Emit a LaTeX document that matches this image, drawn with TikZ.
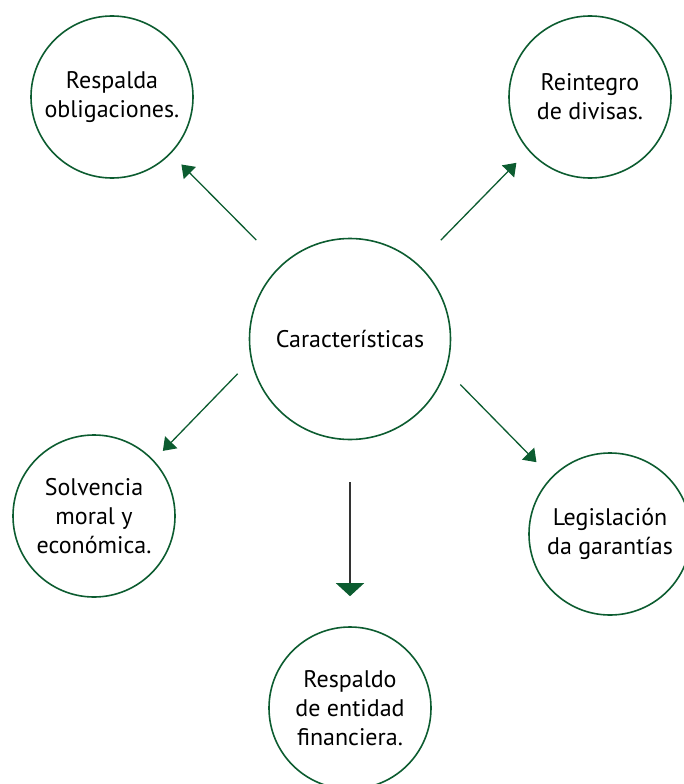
\documentclass[tikz,border=0pt]{standalone}
\usepackage{fontspec}
\setmainfont{PT Sans}
\usepackage{xcolor}
\usetikzlibrary{arrows.meta,positioning}

\definecolor{darkgreen}{RGB}{12,92,48}

\begin{document}
\begin{tikzpicture}[
    x=1pt, y=-1pt,
    item/.style={circle, draw=darkgreen, line width=1.6pt, minimum size=162pt, inner sep=0pt, align=center, font=\fontsize{24}{29}\selectfont},
    hub/.style={item, minimum size=201pt},
    arrow/.style={draw=darkgreen, line width=1.3pt, -{Triangle[length=12pt, width=17pt, fill=darkgreen]}},
    downarrow/.style={draw=black!80, line width=1.3pt, -{Triangle[length=13pt, width=28pt, color=darkgreen, fill=darkgreen]}}
]
\clip (0,0) rectangle (684,784);

% centro
\node[hub] (caract) at (350,339) {\raisebox{-6pt}{Características}};

% alrededor
\node[item] (oblig) at (112,97) {Respalda\\obligaciones.};
\node[item] (divisas) at (590,97) {Reintegro\\de divisas.};
\node[item] (solvencia) at (94,516) {Solvencia\\moral y\\económica.};
\node[item] (legis) at (610,534) {Legislación\\da garantías};
\node[item] (entidad) at (350,708) {Respaldo\\de entidad\\financiera.};

% flechas
\draw[arrow, shorten <=35pt, shorten >=15pt] (caract.133) -- (oblig.316);
\draw[arrow, shorten <=33pt, shorten >=17pt] (caract.48) -- (divisas.221);
\draw[arrow, shorten <=19pt, shorten >=13pt] (caract.192) -- (solvencia.43);
\draw[arrow, shorten <=20pt, shorten >=21pt] (caract.342) -- (legis.136);
\draw[downarrow, shorten <=42pt, shorten >=30pt] (caract.south) -- (entidad.north);

\end{tikzpicture}
\end{document}
